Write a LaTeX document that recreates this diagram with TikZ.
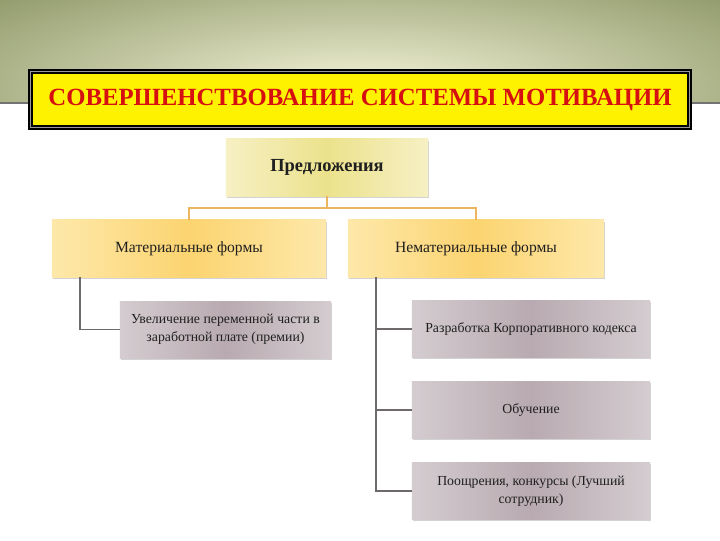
\documentclass[tikz,border=0pt]{standalone}
\usepackage{fontspec}
\setmainfont{Liberation Serif}
\usetikzlibrary{shadows}

\tikzset{
  boxbase/.style={rectangle, minimum height=1.425cm, inner sep=2pt, align=center,
    font=\fontsize{9.8}{12.8}\selectfont, text=black!88,
    drop shadow={shadow xshift=0.5pt, shadow yshift=-1.2pt, opacity=0.35}},
  topbox/.style={boxbase, left color=ylight, right color=ylight, middle color=ymid,
    font=\fontsize{13.1}{15}\selectfont\bfseries},
  formbox/.style={boxbase, left color=olight, right color=olight, middle color=omid,
    font=\fontsize{11.1}{13}\selectfont},
  itembox/.style={boxbase, left color=glight, right color=glight, middle color=gmid},
  upline/.style={draw=linkorange, line width=1.4pt},
  lowline/.style={draw=linkgrey, line width=1.4pt}
}

\begin{document}
\begin{tikzpicture}[x=0.025cm, y=-0.025cm]

  % Цвета
  \definecolor{bandout}{RGB}{142,152,104}   % олива по краям
  \definecolor{bandin}{RGB}{244,244,216}    % светлый центр
  \definecolor{titlered}{RGB}{214,16,16}
  \definecolor{ylight}{RGB}{246,240,196}
  \definecolor{ymid}{RGB}{236,226,140}
  \definecolor{olight}{RGB}{253,232,170}
  \definecolor{omid}{RGB}{252,212,112}
  \definecolor{glight}{RGB}{212,204,208}
  \definecolor{gmid}{RGB}{184,170,176}
  \definecolor{linkorange}{RGB}{236,182,96}
  \definecolor{linkgrey}{RGB}{110,106,108}

  % Фон и полоса сверху
  \useasboundingbox (0,0) rectangle (720,540);
  \fill[white] (0,0) rectangle (720,540);
  \shade[inner color=bandin, outer color=bandout] (-160,-50) rectangle (880,230);
  \fill[white] (0,103) rectangle (720,540);
  \draw[line width=1.4pt, black!55] (0,103) -- (720,103);

  % Заголовок
  \fill[black] (28,69) rectangle (692,130);
  \draw[black!40, line width=0.6pt] (30.5,71.5) rectangle (689.5,127.5);
  \node[fill=yellow, minimum width=16.35cm, minimum height=1.275cm, inner sep=0pt,
        font=\fontsize{17.6}{19}\selectfont\bfseries, text=titlered] (title) at (360,99.5)
        {СОВЕРШЕНСТВОВАНИЕ СИСТЕМЫ МОТИВАЦИИ};

  % Корень
  \node[topbox, minimum width=5.05cm] (root) at (327,167.5) {Предложения};

  % Формы
  \node[formbox, minimum width=6.85cm] (mat) at (189,248.5) {Материальные формы};
  \node[formbox, minimum width=6.4cm] (nemat) at (476,248.5) {Нематериальные формы};

  % Мероприятия
  \node[itembox, minimum width=5.275cm] (uvel) at (225.5,329.5)
        {Увеличение переменной части в\\заработной плате (премии)};
  \foreach \name/\txt/\y in {razr/{Разработка Корпоративного кодекса}/329,
                             obuch/{Обучение}/410,
                             pooshr/{Поощрения, конкурсы (Лучший\\сотрудник)}/491}
    \node[itembox, minimum width=5.95cm] (\name) at (531,\y) {\txt};

  % Связи верхнего уровня
  \coordinate (split) at (327,208);
  \draw[upline] (root) -- (split);
  \draw[upline] (mat.north) -- (mat.north |- split) -- (nemat.north |- split) -- (nemat.north);

  % Связи нижнего уровня
  \coordinate (mtrunk) at ([xshift=0.7cm]mat.south west);
  \coordinate (ntrunk) at ([xshift=0.7cm]nemat.south west);
  \draw[lowline] (mtrunk) |- (uvel.west);
  \draw[lowline] (ntrunk) |- (pooshr.west);
  \foreach \name in {razr,obuch}
    \draw[lowline] (\name.west -| ntrunk) -- (\name.west);

\end{tikzpicture}
\end{document}
